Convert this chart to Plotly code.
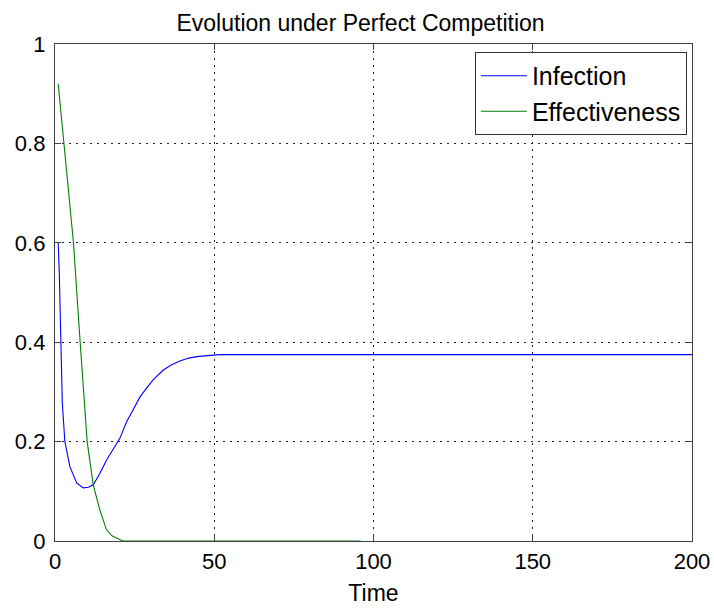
import plotly.graph_objects as go

# Infection share over time
infection_t = [1, 1.35, 1.8, 2.3, 3.1, 4.7, 6.8, 8.9, 10.5, 12, 14, 16.2, 18.3, 20.4, 22.5, 24.6,
               26.7, 28.8, 30.8, 34, 36.5, 39.2, 42, 44.5, 47, 49.7, 52, 60, 100, 150, 200]
infection_v = [0.60, 0.54, 0.414, 0.277, 0.20, 0.149, 0.117, 0.107, 0.108, 0.113, 0.135, 0.163, 0.185,
               0.207, 0.240, 0.265, 0.290, 0.308, 0.324, 0.344, 0.354, 0.362, 0.368, 0.371, 0.373,
               0.374, 0.375, 0.375, 0.375, 0.375, 0.375]

# Effectiveness over time
effect_t = [1, 2.8, 4.5, 5.8, 7.9, 9.1, 10.1, 12, 14.1, 16.2, 18, 21.3, 96]
effect_v = [0.92, 0.80, 0.686, 0.60, 0.40, 0.284, 0.20, 0.113, 0.062, 0.022, 0.01, 0.0, 0.0]

x_ticks = [0, 50, 100, 150, 200]
y_ticks = [0, 0.2, 0.4, 0.6, 0.8, 1]
y_tick_text = ["0", "0.2", "0.4", "0.6", "0.8", "1"]

FONT = "Liberation Sans, Arial, sans-serif"

fig = go.Figure()
fig.add_trace(go.Scatter(x=infection_t, y=infection_v, mode="lines", name="Infection",
                         line=dict(color="#0000ff", width=1.1)))
fig.add_trace(go.Scatter(x=effect_t, y=effect_v, mode="lines", name="Effectiveness",
                         line=dict(color="#008000", width=1.1)))

axis_common = dict(
    showline=True, linecolor="#404040", linewidth=1.3, mirror="allticks",
    ticks="inside", ticklen=6, tickcolor="#404040",
    showgrid=True, gridcolor="#222222", griddash="1.5px,5.5px", gridwidth=1.2,
    zeroline=False, layer="below traces", automargin=False,
    tickfont=dict(family=FONT, size=22, color="black"),
)

fig.update_layout(
    width=714, height=611,
    margin=dict(l=55, r=22, t=44, b=70),
    paper_bgcolor="white", plot_bgcolor="white",
    title=dict(text="Evolution under Perfect Competition", x=0.505, xanchor="center",
               y=0.975, yanchor="top",
               font=dict(family=FONT, size=23, color="black")),
    xaxis=dict(range=[0, 200], tickvals=x_ticks,
               title=dict(text="Time", font=dict(family=FONT, size=23, color="black"), standoff=12),
               **axis_common),
    yaxis=dict(range=[0, 1], tickvals=y_ticks, ticktext=y_tick_text,
               ticklabelstandoff=4, **axis_common),
    legend=dict(x=0.992, y=0.984, xanchor="right", yanchor="top",
                bgcolor="white", bordercolor="#333333", borderwidth=1,
                font=dict(family=FONT, size=25, color="black"),
                itemwidth=46, tracegroupgap=0),
    showlegend=True,
)

fig.write_html("out.html")
